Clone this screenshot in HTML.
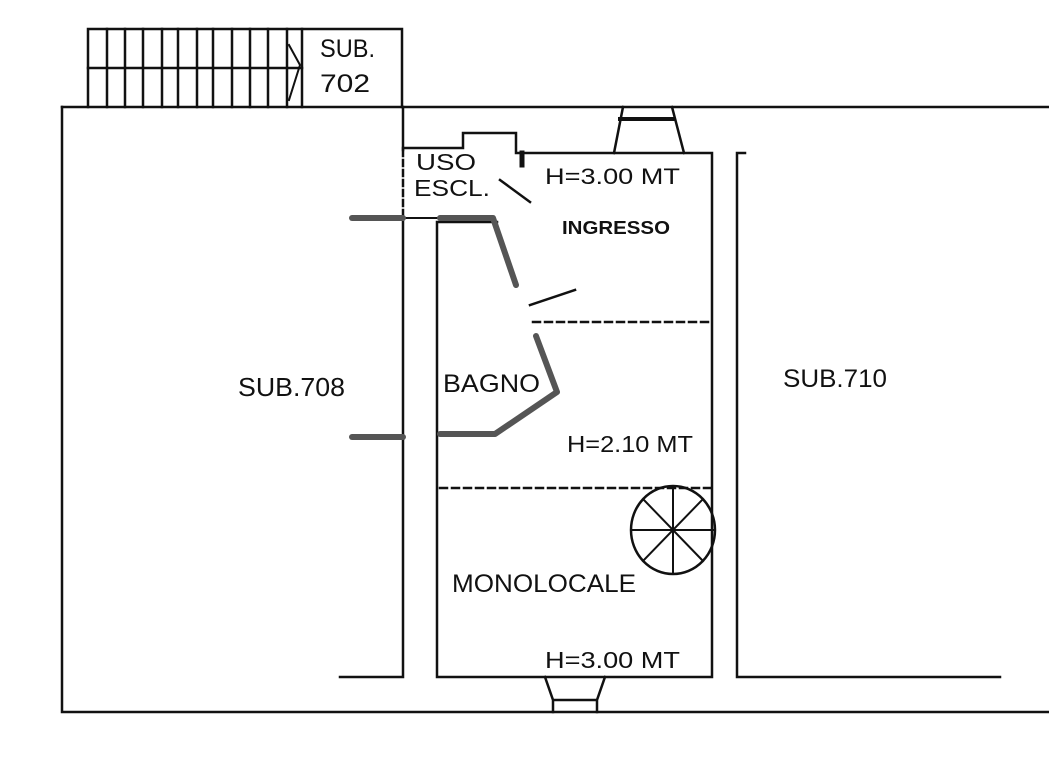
<!DOCTYPE html>
<html><head><style>
html,body{margin:0;padding:0;background:#fff;}
svg{display:block;}
text{font-family:"Liberation Sans",sans-serif;fill:#111;}
</style></head><body>
<svg width="1049" height="766" viewBox="0 0 1049 766" xmlns="http://www.w3.org/2000/svg">
<g stroke="#111" stroke-width="2.5" fill="none" stroke-linecap="square">
<path d="M88 107 V29 H402 V107"/>
<path d="M88 68 H302"/>
<path d="M107 29V107M125 29V107M143 29V107M162 29V107M178 29V107M197 29V107M213 29V107M232 29V107M250 29V107M268 29V107M287 29V107M302 29V107"/>
<path d="M289 45 L300 65 L289 100" stroke-width="2"/>
<path d="M62 107 H1049"/>
<path d="M62 107 V712 H1049"/>
<path d="M403 107 V150"/>
<path d="M403 150 V215" stroke-dasharray="6,4"/>
<path d="M403 222 V677 H340"/>
<path d="M403 148 H463 V133 H516 V153 H712 V677 H437 V222 H497"/>
<path d="M403 218 H437" stroke-width="2"/>
<path d="M745 153 H737 V677 H1000"/>
<path d="M533 322 H712" stroke-dasharray="7,5"/>
<path d="M440 488 H712" stroke-dasharray="7,5"/>
<path d="M623 107 L614 153 M672 107 L684 153"/>
<path d="M620 119 H673" stroke-width="4"/>
<path d="M545 677 L553 700 V712 M605 677 L597 700 V712 M553 700 H597"/>
<path d="M500 180 L530 202" stroke-width="2.5"/>
<path d="M530 305 L575 290" stroke-width="2.5"/>
<ellipse cx="673" cy="530" rx="42" ry="44"/>
<path d="M631 530 H715 M673 486 V574 M643 499 L703 561 M643 561 L703 499" stroke-width="2"/>
<path d="M522 153 V165" stroke-width="5"/>
</g>
<g stroke="#555" stroke-width="6" fill="none" stroke-linecap="round" stroke-linejoin="round">
<path d="M352 218 H403"/>
<path d="M440 218 H493 L516 285"/>
<path d="M536 336 L557 392 L495 434 H440"/>
<path d="M352 437 H403"/>
</g>
<g>
<text x="320" y="57" font-size="25" textLength="55" lengthAdjust="spacingAndGlyphs">SUB.</text>
<text x="320" y="92" font-size="25" textLength="50" lengthAdjust="spacingAndGlyphs">702</text>
<text x="416" y="170" font-size="23" textLength="60" lengthAdjust="spacingAndGlyphs">USO</text>
<text x="414" y="196" font-size="23" textLength="76" lengthAdjust="spacingAndGlyphs">ESCL.</text>
<text x="545" y="184" font-size="22" textLength="135" lengthAdjust="spacingAndGlyphs">H=3.00 MT</text>
<text x="562" y="234" font-size="18" font-weight="bold" textLength="108" lengthAdjust="spacingAndGlyphs">INGRESSO</text>
<text x="238" y="396" font-size="26" textLength="107" lengthAdjust="spacingAndGlyphs">SUB.708</text>
<text x="443" y="392" font-size="25" textLength="97" lengthAdjust="spacingAndGlyphs">BAGNO</text>
<text x="783" y="387" font-size="25" textLength="104" lengthAdjust="spacingAndGlyphs">SUB.710</text>
<text x="567" y="452" font-size="23" textLength="126" lengthAdjust="spacingAndGlyphs">H=2.10 MT</text>
<text x="452" y="592" font-size="25" textLength="184" lengthAdjust="spacingAndGlyphs">MONOLOCALE</text>
<text x="545" y="668" font-size="23" textLength="135" lengthAdjust="spacingAndGlyphs">H=3.00 MT</text>
</g>
</svg>
</body></html>
